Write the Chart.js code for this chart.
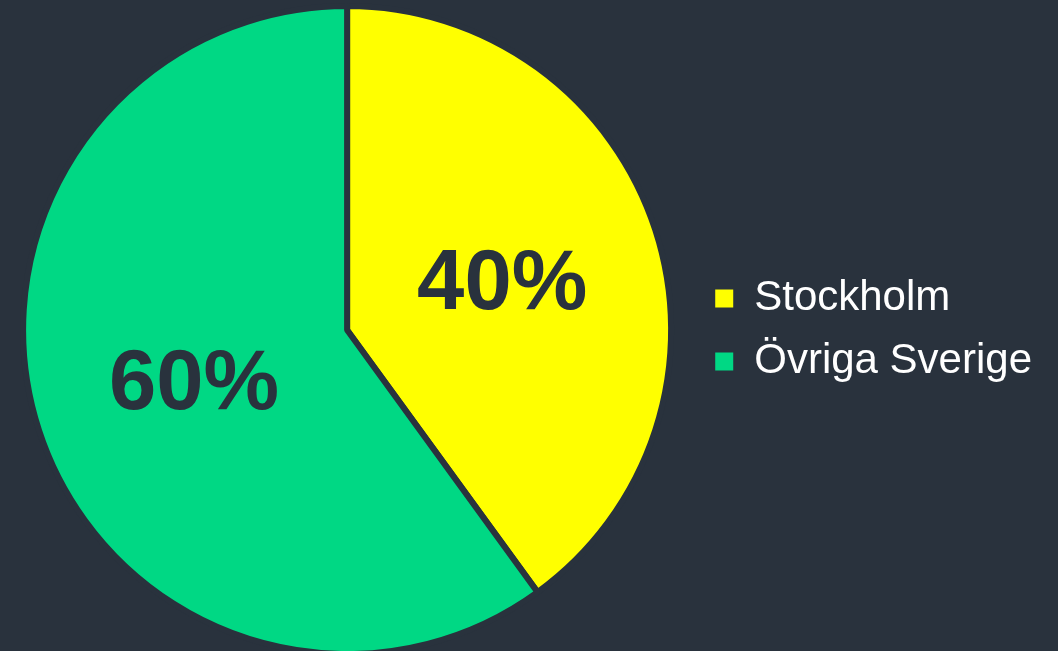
<!DOCTYPE html>
<html>
<head>
<meta charset="utf-8">
<script src="https://cdn.jsdelivr.net/npm/chart.js@4"></script>
<style>
  html, body { margin: 0; padding: 0; background: #29323d; }
  #wrap { width: 1058px; height: 651px; }
</style>
</head>
<body>
<div id="wrap"><canvas id="pieChart" width="1058" height="651"></canvas></div>
<script>
const categories = ['Stockholm', 'Övriga Sverige'];
const shares = [40, 60];
const sliceColors = ['#ffff00', '#00d884'];
const bgColor = '#29323d';

// draws "40%" / "60%" in the middle of each slice
const sliceLabels = {
  id: 'sliceLabels',
  afterDatasetsDraw(chart) {
    const ctx = chart.ctx;
    const meta = chart.getDatasetMeta(0);
    ctx.save();
    ctx.font = 'bold 85px "Liberation Sans", Arial, sans-serif';
    ctx.fillStyle = bgColor;
    ctx.textAlign = 'center';
    ctx.textBaseline = 'middle';
    meta.data.forEach((arc, i) => {
      const pos = arc.tooltipPosition();
      ctx.fillText(shares[i] + '%', pos.x + 1, pos.y + 6);
    });
    ctx.restore();
  }
};

const ctx = document.getElementById('pieChart').getContext('2d');
new Chart(ctx, {
  type: 'pie',
  data: {
    labels: categories,
    datasets: [{
      data: shares,
      backgroundColor: sliceColors,
      borderColor: bgColor,
      borderWidth: 6
    }]
  },
  options: {
    responsive: false,
    animation: false,
    radius: 324,
    layout: { padding: { top: 9, bottom: 0, left: -6, right: 16 } },
    plugins: {
      tooltip: { enabled: false },
      legend: {
        position: 'right',
        labels: {
          color: '#ffffff',
          boxWidth: 18,
          boxHeight: 18,
          padding: 21,
          font: { family: '"Liberation Sans", Arial, sans-serif', size: 42 },
          generateLabels(chart) {
            return categories.map((c, i) => ({
              text: c,
              fillStyle: sliceColors[i],
              strokeStyle: sliceColors[i],
              lineWidth: 0,
              fontColor: '#ffffff',
              index: i
            }));
          }
        }
      }
    }
  },
  plugins: [sliceLabels]
});
</script>
</body>
</html>
